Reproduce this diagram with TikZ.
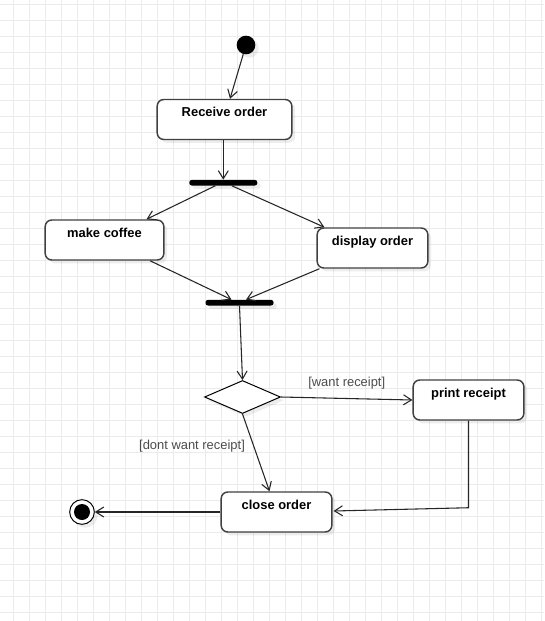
\documentclass[tikz,border=0pt]{standalone}
\usepackage{fontspec}
\setmainfont{Liberation Sans}
\usetikzlibrary{arrows.meta, shapes.geometric, shadows, calc}

\tikzset{
    softshadow/.style={drop shadow={shadow xshift=2.5pt, shadow yshift=-2.5pt, fill=black, opacity=0.07}},
    activity/.style={rectangle, draw=black!75, line width=1.1pt, rounded corners=5pt, fill=white, softshadow,
        font=\fontsize{9.7}{11}\selectfont\bfseries, inner xsep=2pt, inner ysep=0pt,
        text height=12.75pt, text depth=17.25pt, minimum height=30pt},
    bar/.style={rectangle, fill=black, minimum width=51pt, minimum height=4.2pt, inner sep=0pt, rounded corners=1.8pt, softshadow},
    decision/.style={diamond, draw=black, line width=0.75pt, fill=white, minimum width=57pt, minimum height=24.75pt, inner sep=0pt, softshadow},
    startdot/.style={circle, fill=black, minimum size=14pt, inner sep=0pt, softshadow},
    endstate/.style={circle, draw=black, fill=white, line width=0.75pt, minimum size=18.5pt, inner sep=0pt, softshadow,
        path picture={\fill[black] (path picture bounding box.center) circle (6pt);}},
    flow/.style={->, draw=black!85, line width=0.8pt},
    guard/.style={font=\fontsize{9.7}{11}\selectfont, text=black!70},
    gridline/.style={draw=black!8, line width=0.75pt}
}

\begin{document}
\begin{tikzpicture}[x=0.75pt, y=-0.75pt, >={Straight Barb[length=6pt,width=7.5pt]}]
    % background and grid
    \fill[white] (0,0) rectangle (544,621);
    \useasboundingbox (0,0) rectangle (544,621);
    \foreach \gx in {13,29,...,541} \draw[gridline] (\gx,0) -- (\gx,621);
    \foreach \gy in {4,20,...,612} \draw[gridline] (0,\gy) -- (544,\gy);

    % states
    \node (start) at (246, 45) [startdot] {};
    \node (recv) at (224.5, 119.5) [activity, minimum width=101pt] {Receive order};
    \node (fork) at (223.3, 182.7) [bar] {};
    \node (coffee) at (104.5, 240) [activity, minimum width=89pt] {make coffee};
    \node (display) at (372.5, 248) [activity, minimum width=83pt] {display order};
    \node (join) at (239.5, 302.7) [bar] {};
    \node (decide) at (242.5, 397) [decision] {};
    \node (print) at (468.5, 400) [activity, minimum width=83pt] {print receipt};
    \node (close) at (276.5, 512) [activity, minimum width=83pt] {close order};
    \node (final) at (82, 512) [endstate] {};

    % transitions
    \draw[flow] (start) -- ($(recv.north)+(5.5,0)$);
    \draw[flow] (recv.south -| fork) -- (fork.north);
    \draw[flow] ($(fork.south)+(-8,0)$) -- ($(coffee.north)+(42,0)$);
    \draw[flow] ($(fork.south)+(8.5,0)$) -- ($(display.north west)+(8,0)$);
    \draw[flow] ($(coffee.south)+(45.5,0)$) -- ($(join.north)+(-8,0)$);
    \draw[flow] ($(display.south west)+(3,0)$) -- ($(join.north)+(6.5,0)$);
    \draw[flow] (join.south) -- (decide.north);
    \draw[flow] (decide.east) -- (print.west) node[guard, midway, yshift=11.5pt] {[want receipt]};
    \draw[flow] (decide.south) -- ($(close.north)+(-7,0)$) node[guard, pos=0.42, left=3pt] {[dont want receipt]};
    \draw[flow] (print.south) -- ($(print.south)+(0,87)$) -- ($(close.east)+(1,-1)$);
    \draw[flow] (close.west) -- (final);
\end{tikzpicture}
\end{document}
